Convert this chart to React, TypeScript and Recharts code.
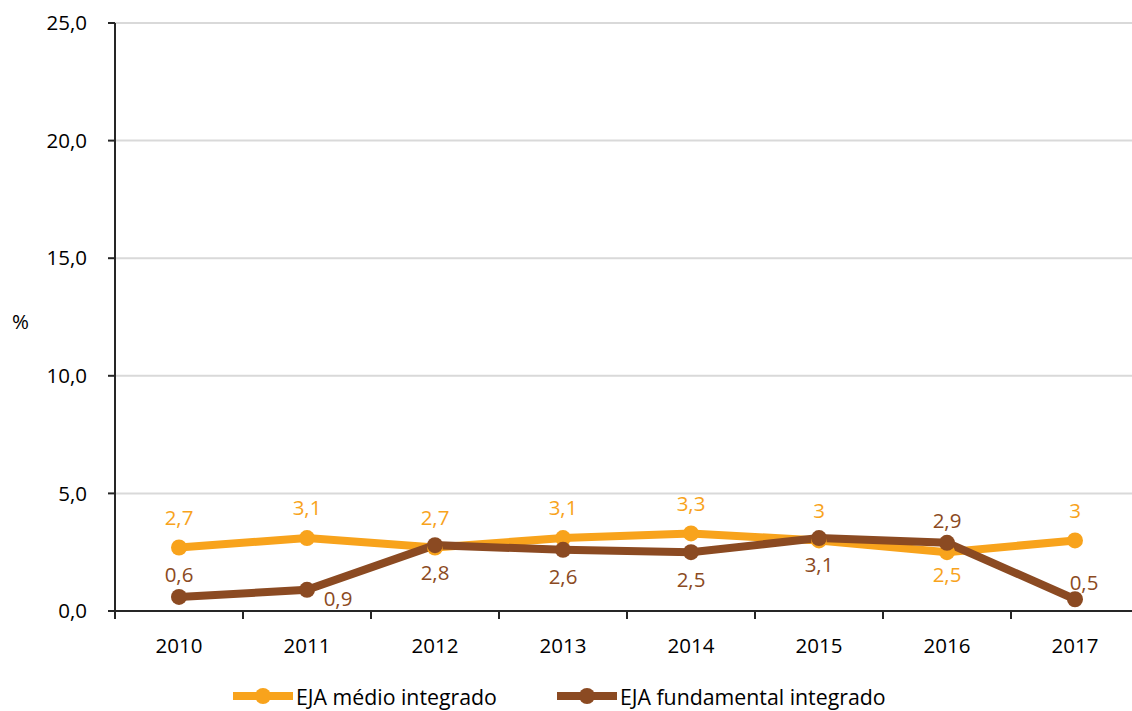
import React from 'react';
import { LineChart, Line, XAxis, YAxis, CartesianGrid, Legend, LabelList } from 'recharts';

const YEARS = [2010, 2011, 2012, 2013, 2014, 2015, 2016, 2017];
const MEDIO = [2.7, 3.1, 2.7, 3.1, 3.3, 3.0, 2.5, 3.0];
const FUNDAMENTAL = [0.6, 0.9, 2.8, 2.6, 2.5, 3.1, 2.9, 0.5];
const Y_TICKS = [0, 5, 10, 15, 20, 25];
const MEDIO_NAME = 'EJA médio integrado';
const FUNDAMENTAL_NAME = 'EJA fundamental integrado';
const MEDIO_LABEL_POS = ['top', 'top', 'top', 'top', 'top', 'top', 'bottom', 'top'];
const FUNDAMENTAL_LABEL_POS = ['top', 'bottomRight', 'bottom', 'bottom', 'bottom', 'bottom', 'top', 'topRight'];

const ORANGE = '#F8A31C';
const BROWN = '#8B4A22';
const AXIS = '#262626';
const FONT = '"Open Sans", Lato, sans-serif';

const data = YEARS.map((year, i) => ({ year, medio: MEDIO[i], fundamental: FUNDAMENTAL[i] }));

const OFFSETS: Record<string, Record<string, [number, number]>> = {
  medio: { top: [0, -30], bottom: [0, 22] },
  fundamental: { top: [0, -22], bottom: [0, 27], bottomRight: [31, 9], topRight: [9, -17] },
};

const fmtVal = (v: number) => String(v).replace('.', ',');

const makeLabel = (key: string, positions: string[], color: string) => (p: any) => {
  const x = p.x ?? p.viewBox?.x;
  const y = p.y ?? p.viewBox?.y;
  const idx = p.index ?? 0;
  const pos = positions[idx] || 'top';
  const [dx, dy] = OFFSETS[key][pos];
  return (
    <text x={x + dx} y={y + dy} dy="0.36em" textAnchor="middle" fontSize={20.5} fill={color} fontFamily={FONT}>
      {fmtVal(p.value)}
    </text>
  );
};

const TICK_SIZE = 0;
const TICK_MARGIN = 27;

const XTick = (props: any) => {
  const { x, y, payload, index, width } = props;
  const w = typeof width === 'number' && width > 0 ? width : 1024;
  const half = w / (2 * YEARS.length);
  const axisY = y - TICK_SIZE - TICK_MARGIN;
  return (
    <g>
      <line x1={x - half} x2={x - half} y1={axisY} y2={axisY + 8} stroke={AXIS} strokeWidth={2} />
      {index === YEARS.length - 1 && (
        <line x1={x + half} x2={x + half} y1={axisY} y2={axisY + 8} stroke={AXIS} strokeWidth={2} />
      )}
      <text x={x} y={y} dy="0.72em" textAnchor="middle" fontSize={20.5} fill="#000" fontFamily={FONT}>
        {payload.value}
      </text>
    </g>
  );
};

const LegendContent = () => {
  const items = [
    { name: MEDIO_NAME, color: ORANGE },
    { name: FUNDAMENTAL_NAME, color: BROWN },
  ];
  return (
    <div style={{ display: 'flex', alignItems: 'center', height: 30, fontSize: 21.3, color: '#000', fontFamily: FONT }}>
      {items.map((s, i) => (
        <div key={s.name} style={{ display: 'flex', alignItems: 'center', marginRight: i === 0 ? 60 : 0 }}>
          <svg width={60} height={20}>
            <line x1={0} y1={10} x2={60} y2={10} stroke={s.color} strokeWidth={8} />
            <circle cx={30} cy={10} r={8} fill={s.color} />
          </svg>
          <span style={{ marginLeft: 3, whiteSpace: 'nowrap' }}>{s.name}</span>
        </div>
      ))}
    </div>
  );
};

export default function App() {
  return (
    <div style={{ position: 'absolute', left: 0, top: 0, width: 1132, height: 711, overflow: 'hidden', background: '#fff', fontFamily: FONT }}>
      <LineChart width={1150} height={711} data={data} margin={{ top: 23, right: 11, left: 0, bottom: 0 }}>
        <CartesianGrid horizontal vertical={false} stroke="#D9D9D9" strokeWidth={2} />
        <XAxis
          dataKey="year"
          type="number"
          domain={[2009.5, 2017.5]}
          allowDataOverflow
          ticks={YEARS}
          tickLine={false}
          tickSize={TICK_SIZE}
          tickMargin={TICK_MARGIN}
          height={70}
          axisLine={{ stroke: AXIS, strokeWidth: 2 }}
          tick={<XTick />}
        />
        <YAxis
          domain={[0, 25]}
          ticks={Y_TICKS}
          width={115}
          tickSize={7}
          tickMargin={21}
          tickFormatter={(v: number) => v.toFixed(1).replace('.', ',')}
          tick={{ fontSize: 20.5, fill: '#000', fontFamily: FONT }}
          tickLine={{ stroke: AXIS, strokeWidth: 2 }}
          axisLine={{ stroke: AXIS, strokeWidth: 2 }}
          label={{ value: '%', position: 'insideLeft', offset: 12, dy: 5, style: { fontSize: 20.5, fill: '#000', fontFamily: FONT } }}
        />
        <Legend verticalAlign="bottom" align="left" wrapperStyle={{ left: 233, width: 900 }} content={<LegendContent />} />
        <Line
          dataKey="medio"
          name={MEDIO_NAME}
          stroke={ORANGE}
          strokeWidth={8}
          dot={{ r: 8, fill: ORANGE, stroke: ORANGE, strokeWidth: 0 }}
          isAnimationActive={false}
          legendType="none"
        >
          <LabelList dataKey="medio" content={makeLabel('medio', MEDIO_LABEL_POS, ORANGE)} />
        </Line>
        <Line
          dataKey="fundamental"
          name={FUNDAMENTAL_NAME}
          stroke={BROWN}
          strokeWidth={8}
          dot={{ r: 8, fill: BROWN, stroke: BROWN, strokeWidth: 0 }}
          isAnimationActive={false}
          legendType="none"
        >
          <LabelList dataKey="fundamental" content={makeLabel('fundamental', FUNDAMENTAL_LABEL_POS, BROWN)} />
        </Line>
      </LineChart>
    </div>
  );
}
